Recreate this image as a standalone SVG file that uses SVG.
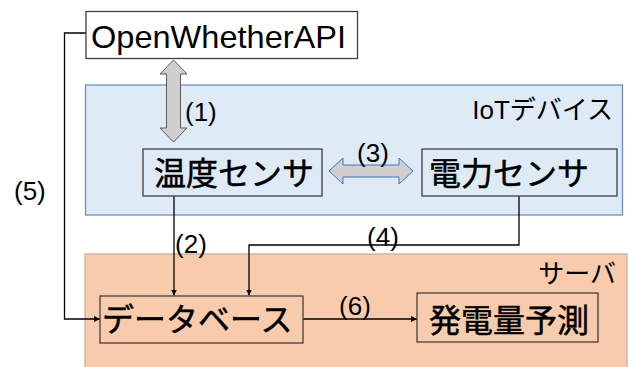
<svg xmlns="http://www.w3.org/2000/svg" width="631" height="367" viewBox="0 0 631 367">
  <defs>
    <marker id="ah" viewBox="0 0 10 10" refX="10" refY="5" markerWidth="6" markerHeight="6" markerUnits="userSpaceOnUse" orient="auto">
      <path d="M0,0 L10,5 L0,10 z" fill="#000"/>
    </marker>
    <style>
      .lat { font-family: "Liberation Sans", Arial, sans-serif; fill: #000; }
      .jp { font-family: "Liberation Sans", "Noto Sans CJK JP", sans-serif; fill: #000; }
      .nt { font-weight: 400; stroke: #000; stroke-width: 0.5; }
      .node { fill: none; stroke: #404040; stroke-width: 1.3; }
      .conn { fill: none; stroke: #000; stroke-width: 1.3; marker-end: url(#ah); }
      .lbl { font-family: "Liberation Sans", Arial, sans-serif; font-size: 26px; fill: #000; }
    </style>
  </defs>

  <rect width="631" height="367" fill="#ffffff"/>

  <g id="iot-group">
    <rect x="85.5" y="85" width="537" height="130" fill="#deebf7" stroke="#6f8fc2" stroke-width="1.3"/>
    <text class="jp" x="613" y="119" font-size="26" text-anchor="end">IoTデバイス</text>
  </g>

  <g id="server-group">
    <rect x="85" y="254" width="542" height="120" fill="#f8cbad" stroke="#c8ad9b" stroke-width="1.3"/>
    <text class="jp" x="616" y="283" font-size="26" text-anchor="end">サーバ</text>
  </g>

  <g id="connectors">
    <polyline class="conn" points="86,33 64.5,33 64.5,319 100,319"/>
    <polyline class="conn" points="174,196 174,295.5"/>
    <polyline class="conn" points="519,196 519,245 249,245 249,295.5"/>
    <polyline class="conn" points="303,319 417,319"/>
    <path id="arrow1" d="M173.5,60 L187,74 L180.5,74 L180.5,128 L187,128 L173.5,142 L160,128 L166.5,128 L166.5,74 L160,74 z" fill="#d0cece" stroke="#595959" stroke-width="1"/>
    <path id="arrow3" d="M329,171 L343,158 L343,165 L399,165 L399,158 L413,171 L399,184 L399,177 L343,177 L343,184 z" fill="#d0cece" stroke="#4472c4" stroke-width="1"/>
    <text class="lbl" x="185" y="121">(1)</text>
    <text class="lbl" x="191" y="253" text-anchor="middle">(2)</text>
    <text class="lbl" x="373" y="162" text-anchor="middle">(3)</text>
    <text class="lbl" x="383" y="246" text-anchor="middle">(4)</text>
    <text class="lbl" x="14" y="200">(5)</text>
    <text class="lbl" x="355" y="315" text-anchor="middle">(6)</text>
  </g>

  <g id="openweather">
    <rect x="86" y="11.5" width="271.5" height="47" fill="#ffffff" stroke="#404040" stroke-width="1.3"/>
    <text class="lat" x="91" y="48" font-size="32" textLength="255" lengthAdjust="spacingAndGlyphs">OpenWhetherAPI</text>
  </g>

  <g id="temp-sensor">
    <rect class="node" x="143" y="149" width="179" height="47"/>
    <text class="jp nt" x="154" y="185" font-size="32">温度センサ</text>
  </g>

  <g id="power-sensor">
    <rect class="node" x="422" y="149" width="195" height="47"/>
    <text class="jp nt" x="429" y="185" font-size="32">電力センサ</text>
  </g>

  <g id="database">
    <rect class="node" x="100" y="296" width="203" height="47"/>
    <text class="jp nt" x="102" y="331" font-size="32">データベース</text>
  </g>

  <g id="forecast">
    <rect class="node" x="417" y="293" width="181" height="49"/>
    <text class="jp nt" x="429" y="332" font-size="32">発電量予測</text>
  </g>
</svg>
